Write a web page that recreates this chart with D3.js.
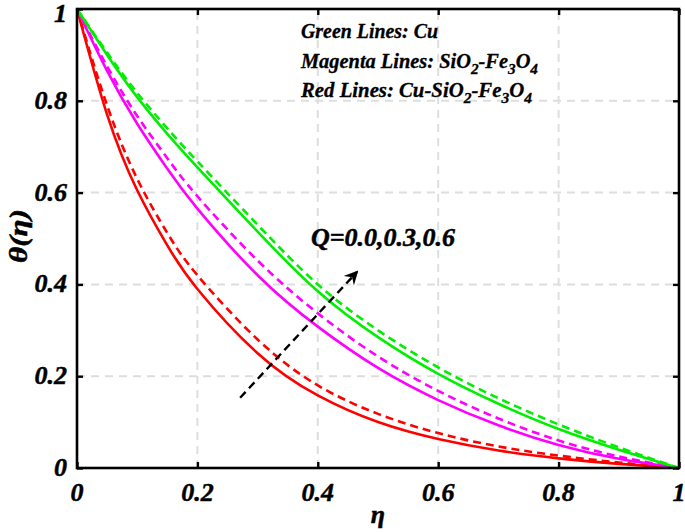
<!DOCTYPE html>
<html>
<head>
<meta charset="utf-8">
<script src="https://cdn.jsdelivr.net/npm/d3@7"></script>
<style>
body { margin: 0; background: #fff; }
svg text { font-family: "Liberation Serif", "Times New Roman", serif; font-weight: bold; font-style: italic;
  stroke: #000; stroke-width: 0.5px; fill: #000; }
</style>
</head>
<body>
<svg id="chart" width="685" height="532"></svg>
<script>
// eta grid and theta values
var eta = [0, 0.05, 0.1, 0.15, 0.2, 0.3, 0.4, 0.5, 0.6, 0.7, 0.8, 0.9, 1];

var cuSolid   = [1, 0.90, 0.808, 0.728, 0.655, 0.515, 0.385, 0.285, 0.205, 0.14, 0.085, 0.04, 0];
var cuDashed  = [1, 0.905, 0.817, 0.74, 0.668, 0.53, 0.4, 0.3, 0.219, 0.152, 0.095, 0.045, 0];
var hybSolid  = [1, 0.865, 0.75, 0.652, 0.565, 0.42, 0.308, 0.218, 0.148, 0.093, 0.05, 0.02, 0];
var hybDashed = [1, 0.875, 0.767, 0.675, 0.592, 0.452, 0.337, 0.243, 0.168, 0.108, 0.06, 0.025, 0];
var triSolid  = [1, 0.77, 0.605, 0.485, 0.39, 0.25, 0.158, 0.1, 0.063, 0.038, 0.021, 0.009, 0];
var triDashed = [1, 0.79, 0.63, 0.512, 0.42, 0.28, 0.18, 0.118, 0.076, 0.047, 0.027, 0.012, 0];

var xTicks = [0, 0.2, 0.4, 0.6, 0.8, 1];
var yTicks = [0, 0.2, 0.4, 0.6, 0.8, 1];

var series = [
  {vals: triSolid,  color: "#ff0000", dash: null},
  {vals: triDashed, color: "#ff0000", dash: "8,5"},
  {vals: hybSolid,  color: "#ff00ff", dash: null},
  {vals: hybDashed, color: "#ff00ff", dash: "8,5"},
  {vals: cuSolid,   color: "#00ee00", dash: null},
  {vals: cuDashed,  color: "#00ee00", dash: "8,5"}
];

// arrow for increasing Q
var arrowFrom = [0.271, 0.153];
var arrowTo = [0.465, 0.427];

var W = 685, H = 532;
var m = {left: 77, top: 9, right: 6, bottom: 64};
var svg = d3.select("#chart");

var x = d3.scaleLinear().domain([0, 1]).range([m.left, W - m.right]);
var y = d3.scaleLinear().domain([0, 1]).range([H - m.bottom, m.top]);

// grid
var grid = svg.append("g").attr("stroke", "#dedede").attr("stroke-width", 2).attr("stroke-dasharray", "8,6");
grid.selectAll(".gx").data(xTicks.slice(1, -1)).enter().append("line")
  .attr("x1", d => x(d)).attr("x2", d => x(d)).attr("y1", y(0)).attr("y2", y(1));
grid.selectAll(".gy").data(yTicks.slice(1, -1)).enter().append("line")
  .attr("y1", d => y(d)).attr("y2", d => y(d)).attr("x1", x(0)).attr("x2", x(1));

// curves
var line = d3.line().x((d, i) => x(eta[i])).y(d => y(d)).curve(d3.curveNatural);
series.forEach(function(s) {
  svg.append("path").attr("d", line(s.vals))
    .attr("fill", "none").attr("stroke", s.color).attr("stroke-width", 2.6)
    .attr("stroke-dasharray", s.dash);
});

// arrow
svg.append("defs").append("marker")
  .attr("id", "head").attr("viewBox", "-14 -8 16 16").attr("refX", 0).attr("refY", 0)
  .attr("markerWidth", 16).attr("markerHeight", 16).attr("markerUnits", "userSpaceOnUse")
  .attr("orient", "auto")
  .append("path").attr("d", "M2,0 L-12,-7 L-7,0 L-12,7 Z").attr("fill", "#000");
svg.append("line")
  .attr("x1", x(arrowFrom[0])).attr("y1", y(arrowFrom[1]))
  .attr("x2", x(arrowTo[0])).attr("y2", y(arrowTo[1]))
  .attr("stroke", "#000").attr("stroke-width", 2.4).attr("stroke-dasharray", "8,5")
  .attr("marker-end", "url(#head)");

// axes with inward ticks on every side
var tl = 6;
svg.append("g").attr("transform", "translate(0," + y(0) + ")")
  .call(d3.axisBottom(x).tickValues(xTicks).tickSize(-tl).tickFormat(""));
svg.append("g").attr("transform", "translate(0," + y(1) + ")")
  .call(d3.axisTop(x).tickValues(xTicks).tickSize(-tl).tickFormat(""));
svg.append("g").attr("transform", "translate(" + x(0) + ",0)")
  .call(d3.axisLeft(y).tickValues(yTicks).tickSize(-tl).tickFormat(""));
svg.append("g").attr("transform", "translate(" + x(1) + ",0)")
  .call(d3.axisRight(y).tickValues(yTicks).tickSize(-tl).tickFormat(""));
svg.selectAll(".domain").remove();
svg.selectAll(".tick line").attr("stroke", "#000").attr("stroke-width", 2.4);
svg.append("rect").attr("x", x(0)).attr("y", y(1)).attr("width", x(1) - x(0)).attr("height", y(0) - y(1))
  .attr("fill", "none").attr("stroke", "#000").attr("stroke-width", 2.6);

// tick labels
var fmt = d => d === 0 ? "0" : d === 1 ? "1" : d3.format(".1f")(d);
svg.selectAll(".xl").data(xTicks).enter().append("text")
  .attr("x", d => x(d)).attr("y", 501).attr("text-anchor", "middle")
  .attr("font-size", 26).text(fmt);
svg.selectAll(".yl").data(yTicks).enter().append("text")
  .attr("x", 67).attr("y", d => Math.max(y(d) + 8, 22)).attr("text-anchor", "end")
  .attr("font-size", 26).text(fmt);

// axis titles
svg.append("text").attr("x", 378).attr("y", 523).attr("text-anchor", "middle")
  .attr("font-size", 26).text("η");
svg.append("text").attr("transform", "translate(27,236) rotate(-90)").attr("text-anchor", "middle")
  .attr("font-size", 25).attr("textLength", 54).attr("lengthAdjust", "spacingAndGlyphs").text("θ(η)");

// annotation
svg.append("text").attr("x", 311).attr("y", 246).attr("font-size", 25)
  .attr("textLength", 144).attr("lengthAdjust", "spacingAndGlyphs").text("Q=0.0,0.3,0.6");

// legend text with subscripts
var legend = [
  {y: 38, len: 137, parts: [["Green Lines: Cu", 0]]},
  {y: 68, len: 237, parts: [["Magenta Lines: SiO", 0], ["2", 1], ["-Fe", 0], ["3", 1], ["O", 0], ["4", 1]]},
  {y: 97, len: 231, parts: [["Red Lines: Cu-SiO", 0], ["2", 1], ["-Fe", 0], ["3", 1], ["O", 0], ["4", 1]]}
];
legend.forEach(function(l) {
  var t = svg.append("text").attr("x", 301).attr("y", l.y).attr("font-size", 20)
    .attr("textLength", l.len).attr("lengthAdjust", "spacingAndGlyphs").style("stroke-width", "0.3px");
  var sub = false;
  l.parts.forEach(function(p) {
    var dy = p[1] && !sub ? 6 : (!p[1] && sub ? -6 : 0);
    t.append("tspan").attr("dy", dy).attr("font-size", p[1] ? 15 : 20).text(p[0]);
    sub = !!p[1];
  });
});
</script>
</body>
</html>
